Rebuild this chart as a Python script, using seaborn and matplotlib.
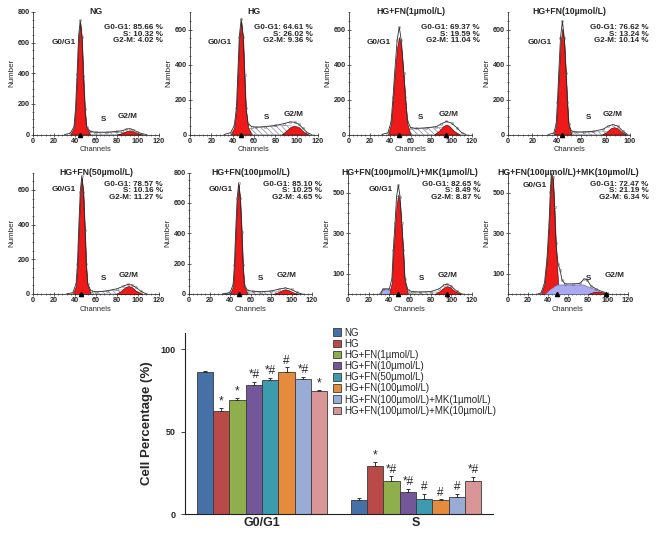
import numpy as np
import pandas as pd
import seaborn as sns
import matplotlib
matplotlib.use('Agg')
from matplotlib import pyplot as plt
from matplotlib.patches import Patch
from matplotlib.ticker import MultipleLocator, FixedLocator

sns.set_style('ticks')
plt.rcParams['font.family'] = ['Liberation Sans', 'DejaVu Sans']
plt.rcParams['font.weight'] = 'bold'
plt.rcParams['hatch.linewidth'] = 0.4

# ---------------- flow cytometry histograms ----------------
panel_titles = ['NG', 'HG', 'HG+FN(1µmol/L)', 'HG+FN(10µmol/L)',
                'HG+FN(50µmol/L)', 'HG+FN(100µmol/L)',
                'HG+FN(100µmol/L)+MK(1µmol/L)', 'HG+FN(100µmol/L)+MK(10µmol/L)']
g1_pct = [85.66, 64.61, 69.37, 76.62, 78.57, 85.10, 82.65, 72.47]
s_pct = [10.32, 26.02, 19.59, 13.24, 10.16, 10.25, 8.49, 21.19]
g2_pct = [4.02, 9.36, 11.04, 10.14, 11.27, 4.65, 8.87, 6.34]
x_max = [120, 120, 120, 100, 120, 120, 120, 120]
y_max = [800, 700, 700, 700, 700, 800, 600, 600]

# G0/G1 fitted peak (red)
g1_chan = [[35.5, 39, 40.5, 42, 43.4, 45, 46.6, 48, 49.5, 51, 54.5],
           [38, 41.5, 43.5, 44.8, 46.2, 48, 49.8, 51.2, 52.5, 54.5, 58],
           [38, 41, 43, 44.5, 47, 49, 51, 53.5, 55, 57, 60],
           [37.5, 39.5, 40.5, 41.6, 43, 44.6, 46.2, 47.6, 48.7, 49.8, 52],
           [38, 41, 42.3, 43.5, 45, 46.5, 48, 49.5, 50.7, 52, 55],
           [40, 43, 44.3, 45.5, 47, 48.5, 50, 51.5, 52.7, 54, 57],
           [40, 42.5, 43.8, 45.5, 47, 48.7, 50.4, 52, 53.6, 55, 58],
           [33, 36.5, 39, 41, 42.3, 43.3, 45, 46.5, 48, 50, 51.5]]
g1_count = [[0, 45, 160, 380, 625, 735, 625, 380, 160, 45, 0],
            [0, 40, 140, 330, 550, 648, 550, 330, 140, 40, 0],
            [0, 60, 200, 330, 500, 557, 500, 330, 200, 60, 0],
            [0, 50, 170, 330, 520, 605, 520, 330, 170, 50, 0],
            [0, 50, 160, 360, 580, 670, 580, 360, 160, 50, 0],
            [0, 50, 180, 400, 620, 720, 620, 400, 180, 50, 0],
            [0, 60, 200, 330, 440, 492, 440, 330, 200, 60, 0],
            [0, 50, 170, 340, 500, 585, 570, 420, 230, 60, 0]]

# G2/M fitted peak (red)
g2_chan = [[80, 85, 89, 92, 95, 99, 104],
           [86, 90, 94, 98, 102, 106, 111],
           [83, 88, 92, 95, 98, 102, 108],
           [77, 81, 84, 87, 90, 93, 97],
           [79, 84, 88, 91, 94, 98, 104],
           [82, 87, 91, 94, 97, 101, 107],
           [84, 89, 93, 96, 99, 103, 109],
           [80, 86, 92, 97, 100]]
g2_count = [[0, 10, 22, 26, 22, 10, 0],
            [0, 20, 42, 50, 42, 18, 0],
            [0, 22, 48, 57, 48, 22, 0],
            [0, 15, 35, 42, 35, 15, 0],
            [0, 18, 40, 46, 40, 18, 0],
            [0, 12, 26, 30, 26, 12, 0],
            [0, 15, 33, 39, 33, 15, 0],
            [0, 10, 10, 5, 0]]

# S phase (hatched)
s_chan = [[48, 55, 65, 75, 85, 92, 98],
          [45, 50, 56, 65, 75, 85, 95, 102, 106],
          [45, 52, 60, 70, 80, 90, 100, 105],
          [44, 50, 60, 70, 80, 90, 96],
          [45, 52, 60, 70, 80, 90, 100, 104],
          [45, 55, 65, 75, 85, 95, 102],
          [48, 55, 65, 75, 85, 95, 100],
          [48, 55, 65, 75, 85, 95]]
s_count = [[0, 12, 14, 15, 15, 12, 0],
           [0, 20, 35, 40, 45, 50, 50, 30, 0],
           [0, 25, 32, 35, 38, 40, 30, 0],
           [0, 10, 12, 14, 16, 12, 0],
           [0, 10, 12, 16, 22, 25, 15, 0],
           [0, 12, 13, 14, 15, 12, 0],
           [0, 8, 9, 10, 10, 8, 0],
           [0, 0, 0, 0, 0, 0]]

# debris / aggregates (lavender)
debris_chan = [[], [], [], [], [], [32, 35, 40, 44],
               [31, 33, 36, 40, 44, 48, 52],
               [36.5, 42, 48.5, 62, 75, 86, 97]]
debris_count = [[], [], [], [], [], [0, 8, 6, 0],
                [0, 22, 28, 25, 15, 6, 0],
                [0, 25, 47, 47, 47, 25, 0]]

# measured histogram outline
data_chan = [[30, 35.5, 39, 40.5, 42, 43.4, 45, 46.6, 48, 49.5, 51, 54.5, 60, 70, 80, 85, 89, 92, 95, 99, 104, 108],
             [32, 38, 41.5, 43.5, 44.8, 46.2, 48, 49.8, 51.2, 52.5, 54.5, 58, 62, 70, 80, 88, 94, 98, 102, 106, 110, 114],
             [32, 38, 41, 43, 44.5, 47, 49, 51, 53.5, 55, 57, 60, 65, 75, 85, 90, 95, 100, 105, 110, 114],
             [33, 37.5, 39.5, 40.5, 41.6, 43, 44.6, 46.2, 47.6, 48.7, 49.8, 52, 55, 62, 70, 78, 82, 86, 90, 94, 98],
             [32, 38, 41, 42.3, 43.5, 45, 46.5, 48, 49.5, 50.7, 52, 55, 60, 70, 80, 86, 90, 94, 98, 103, 108],
             [33, 40, 43, 44.3, 45.5, 47, 48.5, 50, 51.5, 52.7, 54, 57, 62, 70, 80, 88, 94, 100, 105, 110],
             [31, 34, 40, 42.5, 43.8, 45.5, 47, 48.7, 50.4, 52, 53.6, 55, 58, 62, 70, 80, 88, 93, 96, 100, 105, 110],
             [30, 33, 36.5, 39, 41, 42.3, 43.3, 45, 46.5, 48, 50, 52, 54, 57, 65, 72, 76, 79, 83, 88, 95, 100]]
data_count = [[0, 8, 50, 170, 395, 640, 745, 635, 385, 165, 50, 20, 15, 15, 20, 25, 35, 38, 32, 18, 5, 0],
              [0, 10, 50, 150, 340, 560, 660, 560, 340, 150, 60, 45, 42, 45, 52, 62, 72, 70, 58, 35, 10, 0],
              [0, 10, 70, 215, 350, 540, 614, 540, 350, 215, 80, 40, 35, 38, 45, 60, 75, 65, 40, 10, 0],
              [0, 8, 60, 185, 350, 550, 648, 550, 350, 185, 60, 20, 15, 15, 18, 30, 48, 57, 48, 20, 0],
              [0, 8, 60, 170, 370, 590, 680, 590, 370, 170, 60, 20, 12, 18, 30, 45, 55, 52, 38, 15, 0],
              [0, 10, 60, 190, 410, 630, 730, 630, 410, 190, 60, 25, 18, 15, 20, 32, 40, 30, 12, 0],
              [0, 25, 25, 75, 215, 350, 480, 538, 480, 350, 215, 75, 20, 12, 10, 12, 25, 45, 49, 38, 15, 0],
              [0, 5, 55, 175, 345, 505, 592, 580, 430, 250, 150, 120, 70, 50, 50, 52, 75, 70, 40, 25, 10, 0]]

# peak mean markers
mean_chan = [[45], [48], [49, 95], [44], [46], [48.5], [48.7, 96], [49, 98]]

# ---------------- bar chart ----------------
phases = ['G0/G1', 'S']
groups = ['NG', 'HG', 'HG+FN(1µmol/L)', 'HG+FN(10µmol/L)', 'HG+FN(50µmol/L)',
          'HG+FN(100µmol/L)', 'HG+FN(100µmol/L)+MK(1µmol/L)', 'HG+FN(100µmol/L)+MK(10µmol/L)']
g0g1_mean = [86.6, 62.6, 69.2, 78.6, 81.4, 86.2, 82.3, 74.8]
g0g1_err = [0.6, 2.0, 1.2, 1.8, 1.4, 3.0, 1.0, 0.6]
s_mean = [8.6, 29.0, 20.2, 13.3, 9.1, 8.4, 10.4, 19.9]
s_err = [1.4, 2.6, 2.6, 2.0, 3.2, 0.6, 1.8, 2.8]
g0g1_marks = ['', '*', '*', '*#', '*#', '#', '*#', '*']
s_marks = ['', '*', '*#', '*#', '#', '#', '#', '*#']
bar_colors = ['#4571a8', '#b94a48', '#8fae4c', '#735799', '#3d9bb0',
              '#e68b3c', '#98acd6', '#d99696']

W, H = 659, 534
fig = plt.figure(figsize=(W / 100, H / 100), dpi=100)


def px_axes(x0, y0, x1, y1):
    return fig.add_axes([x0 / W, 1 - y1 / H, (x1 - x0) / W, (y1 - y0) / H])


hist_boxes = [(33, 12, 159, 134.5), (190, 12, 318, 134.5), (349, 12, 472, 134.5), (508, 12, 630, 134.5),
              (33, 172.5, 159, 294), (189, 172.5, 312, 294), (348, 172.5, 472, 294), (508, 172.5, 628, 294)]
stats_pos = [(1.03, 0.90), (0.96, 0.90), (1.065, 0.90), (1.15, 0.90),
             (1.03, 0.93), (1.08, 0.93), (1.07, 0.93), (1.17, 0.93)]
lab_g1 = [(0.24, 0.75), (0.235, 0.75), (0.24, 0.75), (0.26, 0.75),
          (0.24, 0.86), (0.26, 0.86), (0.26, 0.86), (0.22, 0.89)]
lab_s = [(0.556, 0.12), (0.596, 0.135), (0.58, 0.135), (0.657, 0.135),
         (0.556, 0.13), (0.58, 0.13), (0.59, 0.13), (0.667, 0.13)]
lab_g2 = [(0.754, 0.15), (0.81, 0.16), (0.81, 0.16), (0.86, 0.16),
          (0.755, 0.155), (0.79, 0.155), (0.80, 0.155), (0.89, 0.15)]

for i in range(8):
    ax = px_axes(*hist_boxes[i])
    if debris_chan[i]:
        z = 3.5 if i == 7 else 1.5
        ax.fill_between(debris_chan[i], debris_count[i], facecolor='#abaaf0',
                        edgecolor='#5a5aa0', lw=0.4, zorder=z)
    ax.fill_between(s_chan[i], s_count[i], facecolor='white', hatch='\\\\\\\\\\\\',
                    edgecolor='#6a6a80', lw=0.3, zorder=1)
    ax.fill_between(g1_chan[i], g1_count[i], facecolor='#ee1a1a',
                    edgecolor='#3c0000', lw=0.4, zorder=2)
    ax.fill_between(g2_chan[i], g2_count[i], facecolor='#ee1a1a',
                    edgecolor='#3c0000', lw=0.4, zorder=4)
    sns.lineplot(x=data_chan[i], y=data_count[i], ax=ax, color='#2a2a2a', lw=0.6,
                 marker='o', markersize=1.6, markerfacecolor='none',
                 markeredgecolor='#555555', markeredgewidth=0.3, zorder=5)
    ax.plot(mean_chan[i], [0] * len(mean_chan[i]), '^', color='black', ms=3,
            clip_on=False, zorder=6)

    ax.set_xlim(0, x_max[i])
    ax.set_ylim(0, y_max[i])
    ax.xaxis.set_major_locator(MultipleLocator(20))
    ax.xaxis.set_minor_locator(MultipleLocator(4))
    if i >= 6:
        ax.yaxis.set_major_locator(FixedLocator([100, 300, 500]))
    else:
        ax.yaxis.set_major_locator(MultipleLocator(200))
    ax.yaxis.set_minor_locator(MultipleLocator(50))
    ax.tick_params(which='major', labelsize=5.2, length=2.5, width=0.5, pad=1, direction='inout')
    ax.tick_params(which='minor', length=1.5, width=0.4, direction='inout')
    sns.despine(ax=ax)
    for sp in ['left', 'bottom']:
        ax.spines[sp].set_linewidth(0.6)
        ax.spines[sp].set_color('#333333')
    ax.set_xlabel('Channels', fontsize=5.4, labelpad=1)
    ax.set_ylabel('Number', fontsize=5.8, labelpad=2)

    ax.text(0.5, 1.0, panel_titles[i], transform=ax.transAxes, ha='center',
            va='center', fontsize=6.3)
    sx, sy = stats_pos[i]
    ax.text(sx, sy, f'G0-G1: {g1_pct[i]:.2f} %\nS: {s_pct[i]:.2f} %\nG2-M: {g2_pct[i]:.2f} %',
            transform=ax.transAxes, ha='right', va='top', fontsize=5.8,
            multialignment='right', linespacing=0.85, zorder=7)
    ax.text(*lab_g1[i], 'G0/G1', transform=ax.transAxes, ha='center', va='center', fontsize=5.9)
    ax.text(*lab_s[i], 'S', transform=ax.transAxes, ha='center', va='center', fontsize=5.9, zorder=7)
    ax.text(*lab_g2[i], 'G2/M', transform=ax.transAxes, ha='center', va='center', fontsize=5.9, zorder=7)

# bar chart
df = pd.DataFrame({'phase': [phases[0]] * 8 + [phases[1]] * 8,
                   'group': groups * 2,
                   'pct': g0g1_mean + s_mean})
bax = px_axes(185, 333, 493, 514)
sns.barplot(data=df, x='phase', y='pct', hue='group', hue_order=groups,
            palette=bar_colors, width=0.85, errorbar=None, saturation=1,
            edgecolor='#3a3a3a', linewidth=0.6, legend=False, ax=bax)
errs = [g0g1_err, s_err]
marks = [g0g1_marks, s_marks]
bar_containers = list(bax.containers)
for k, cont in enumerate(bar_containers):
    for j, bar in enumerate(cont):
        xc = bar.get_x() + bar.get_width() / 2
        top = bar.get_height()
        e = errs[j][k]
        bax.errorbar(xc, top, yerr=[[0], [e]], color='#333333', lw=0.7,
                     capsize=1.5, capthick=0.7, zorder=4)
        if marks[j][k]:
            bax.text(xc, top + e + 0.3, marks[j][k], ha='center', va='bottom',
                     fontsize=8.5, fontweight='normal')

bax.set_xlim(-0.5, 1.5)
bax.set_ylim(0, 110)
bax.set_yticks([0, 50, 100])
bax.set_xlabel('')
bax.set_ylabel('Cell Percentage (%)', fontsize=9.5, fontweight='bold', labelpad=6)
bax.tick_params(axis='y', labelsize=6.5, length=3, width=0.6)
bax.tick_params(axis='x', labelsize=9, length=0, pad=2)
sns.despine(ax=bax)
for sp in ['left', 'bottom']:
    bax.spines[sp].set_linewidth(0.8)
    bax.spines[sp].set_color('#222222')

handles = [Patch(facecolor=c, edgecolor='#3a3a3a', lw=0.6) for c in bar_colors]
bax.legend(handles, groups, loc='upper left', bbox_to_anchor=(0.48, 1.03),
           frameon=False, prop={'size': 7, 'weight': 'normal'},
           handlelength=0.8, handleheight=0.8, handletextpad=0.35,
           labelspacing=0.12, borderaxespad=0, borderpad=0)

fig.savefig('out.png', dpi=100)
